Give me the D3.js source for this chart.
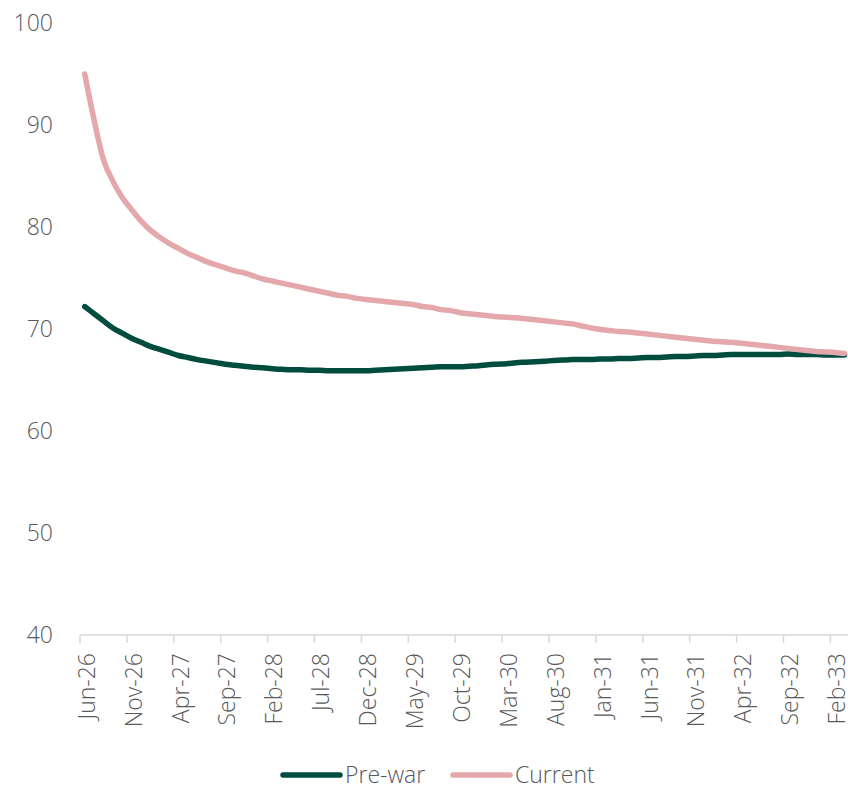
<!DOCTYPE html>
<html>
<head>
<meta charset="utf-8">
<script src="https://cdn.jsdelivr.net/npm/d3@7"></script>
<style>
  body { margin: 0; background: #fff; }
  svg text { font-family: "Open Sans", sans-serif; font-weight: 300; fill: #595959; }
</style>
</head>
<body>
<svg width="848" height="786"></svg>
<script>
// monthly categories Jun-26 .. Mar-33
const months = d3.timeMonth.range(new Date(2026, 5, 1), new Date(2033, 3, 1));
const fmt = d3.timeFormat("%b-%y");
const categories = months.map(fmt);

const yTicks = [40, 50, 60, 70, 80, 90, 100];

const seriesNames = ["Pre-war", "Current"];
const seriesColors = ["#004c3f", "#e4a8ac"];

const preWar = [
  72.2, 71.5, 70.8, 70.1, 69.6, 69.1, 68.7, 68.3, 68.0, 67.7,
  67.4, 67.2, 67.0, 66.85, 66.7, 66.55, 66.45, 66.35, 66.25, 66.2,
  66.1, 66.05, 66.0, 66.0, 65.95, 65.95, 65.9, 65.9, 65.9, 65.9,
  65.9, 65.95, 66.0, 66.05, 66.1, 66.15, 66.2, 66.25, 66.3, 66.3,
  66.3, 66.35, 66.4, 66.5, 66.55, 66.6, 66.7, 66.75, 66.8, 66.85,
  66.9, 66.95, 67.0, 67.0, 67.0, 67.05, 67.05, 67.1, 67.1, 67.15,
  67.2, 67.2, 67.25, 67.3, 67.3, 67.35, 67.4, 67.4, 67.45, 67.5,
  67.5, 67.5, 67.5, 67.5, 67.5, 67.55, 67.5, 67.5, 67.5, 67.45,
  67.45, 67.45
];

const current = [
  95.0, 90.5, 86.6, 84.5, 82.9, 81.7, 80.6, 79.7, 79.0, 78.4,
  77.9, 77.4, 77.0, 76.6, 76.3, 76.0, 75.7, 75.5, 75.2, 74.9,
  74.7, 74.5, 74.3, 74.1, 73.9, 73.7, 73.5, 73.3, 73.2, 73.0,
  72.9, 72.8, 72.7, 72.6, 72.5, 72.4, 72.2, 72.1, 71.9, 71.8,
  71.6, 71.5, 71.4, 71.3, 71.2, 71.15, 71.1, 71.0, 70.9, 70.8,
  70.7, 70.6, 70.5, 70.3, 70.1, 69.95, 69.85, 69.75, 69.7, 69.6,
  69.5, 69.4, 69.3, 69.2, 69.1, 69.0, 68.9, 68.8, 68.75, 68.7,
  68.6, 68.5, 68.4, 68.3, 68.2, 68.1, 68.0, 67.9, 67.8, 67.75,
  67.7, 67.6
];

const svg = d3.select("svg");

const x0 = 80;
const step = 9.38;
const x = d3.scaleBand()
  .domain(categories)
  .range([x0, x0 + step * categories.length])
  .padding(0);

const y = d3.scaleLinear().domain([40, 100]).range([635, 23]);

// y labels (no axis line, no grid)
svg.append("g")
  .selectAll("text")
  .data(yTicks)
  .join("text")
  .attr("x", 53)
  .attr("y", d => y(d))
  .attr("dy", "0.35em")
  .attr("text-anchor", "end")
  .attr("font-size", 23)
  .text(d => d);

// x axis
const tickCats = categories.filter((d, i) => i % 5 === 0);
const xAxis = svg.append("g")
  .attr("transform", `translate(0,${y(40)})`)
  .call(d3.axisBottom(x).tickValues(tickCats).tickSize(8).tickSizeOuter(0));

xAxis.select(".domain").attr("stroke", "#d9d9d9").attr("stroke-width", 1.5)
  .attr("d", `M${x0},0H848`);
xAxis.selectAll(".tick line")
  .attr("stroke", "#d9d9d9").attr("stroke-width", 1.5)
  .attr("x1", -x.bandwidth() / 2).attr("x2", -x.bandwidth() / 2);
xAxis.selectAll(".tick text")
  .attr("font-size", 23)
  .attr("fill", "#595959")
  .attr("transform", "rotate(-90)")
  .attr("text-anchor", "end")
  .attr("x", -18)
  .attr("y", 2)
  .attr("dy", "0.35em");

// lines
const line = d3.line()
  .x((d, i) => x(categories[i]) + x.bandwidth() / 2)
  .y(d => y(d))
  .curve(d3.curveMonotoneX);

[preWar, current].forEach((vals, k) => {
  svg.append("path")
    .attr("d", line(vals))
    .attr("fill", "none")
    .attr("stroke", seriesColors[k])
    .attr("stroke-width", 5.5)
    .attr("stroke-linecap", "round")
    .attr("stroke-linejoin", "round");
});

// legend
const legendX = [283, 453];
const legend = svg.append("g");
seriesNames.forEach((name, k) => {
  legend.append("line")
    .attr("x1", legendX[k]).attr("x2", legendX[k] + 57)
    .attr("y1", 775).attr("y2", 775)
    .attr("stroke", seriesColors[k])
    .attr("stroke-width", 5.5)
    .attr("stroke-linecap", "round");
  legend.append("text")
    .attr("x", legendX[k] + 62)
    .attr("y", 775)
    .attr("dy", "0.35em")
    .attr("font-size", 23)
    .text(name);
});
</script>
</body>
</html>
